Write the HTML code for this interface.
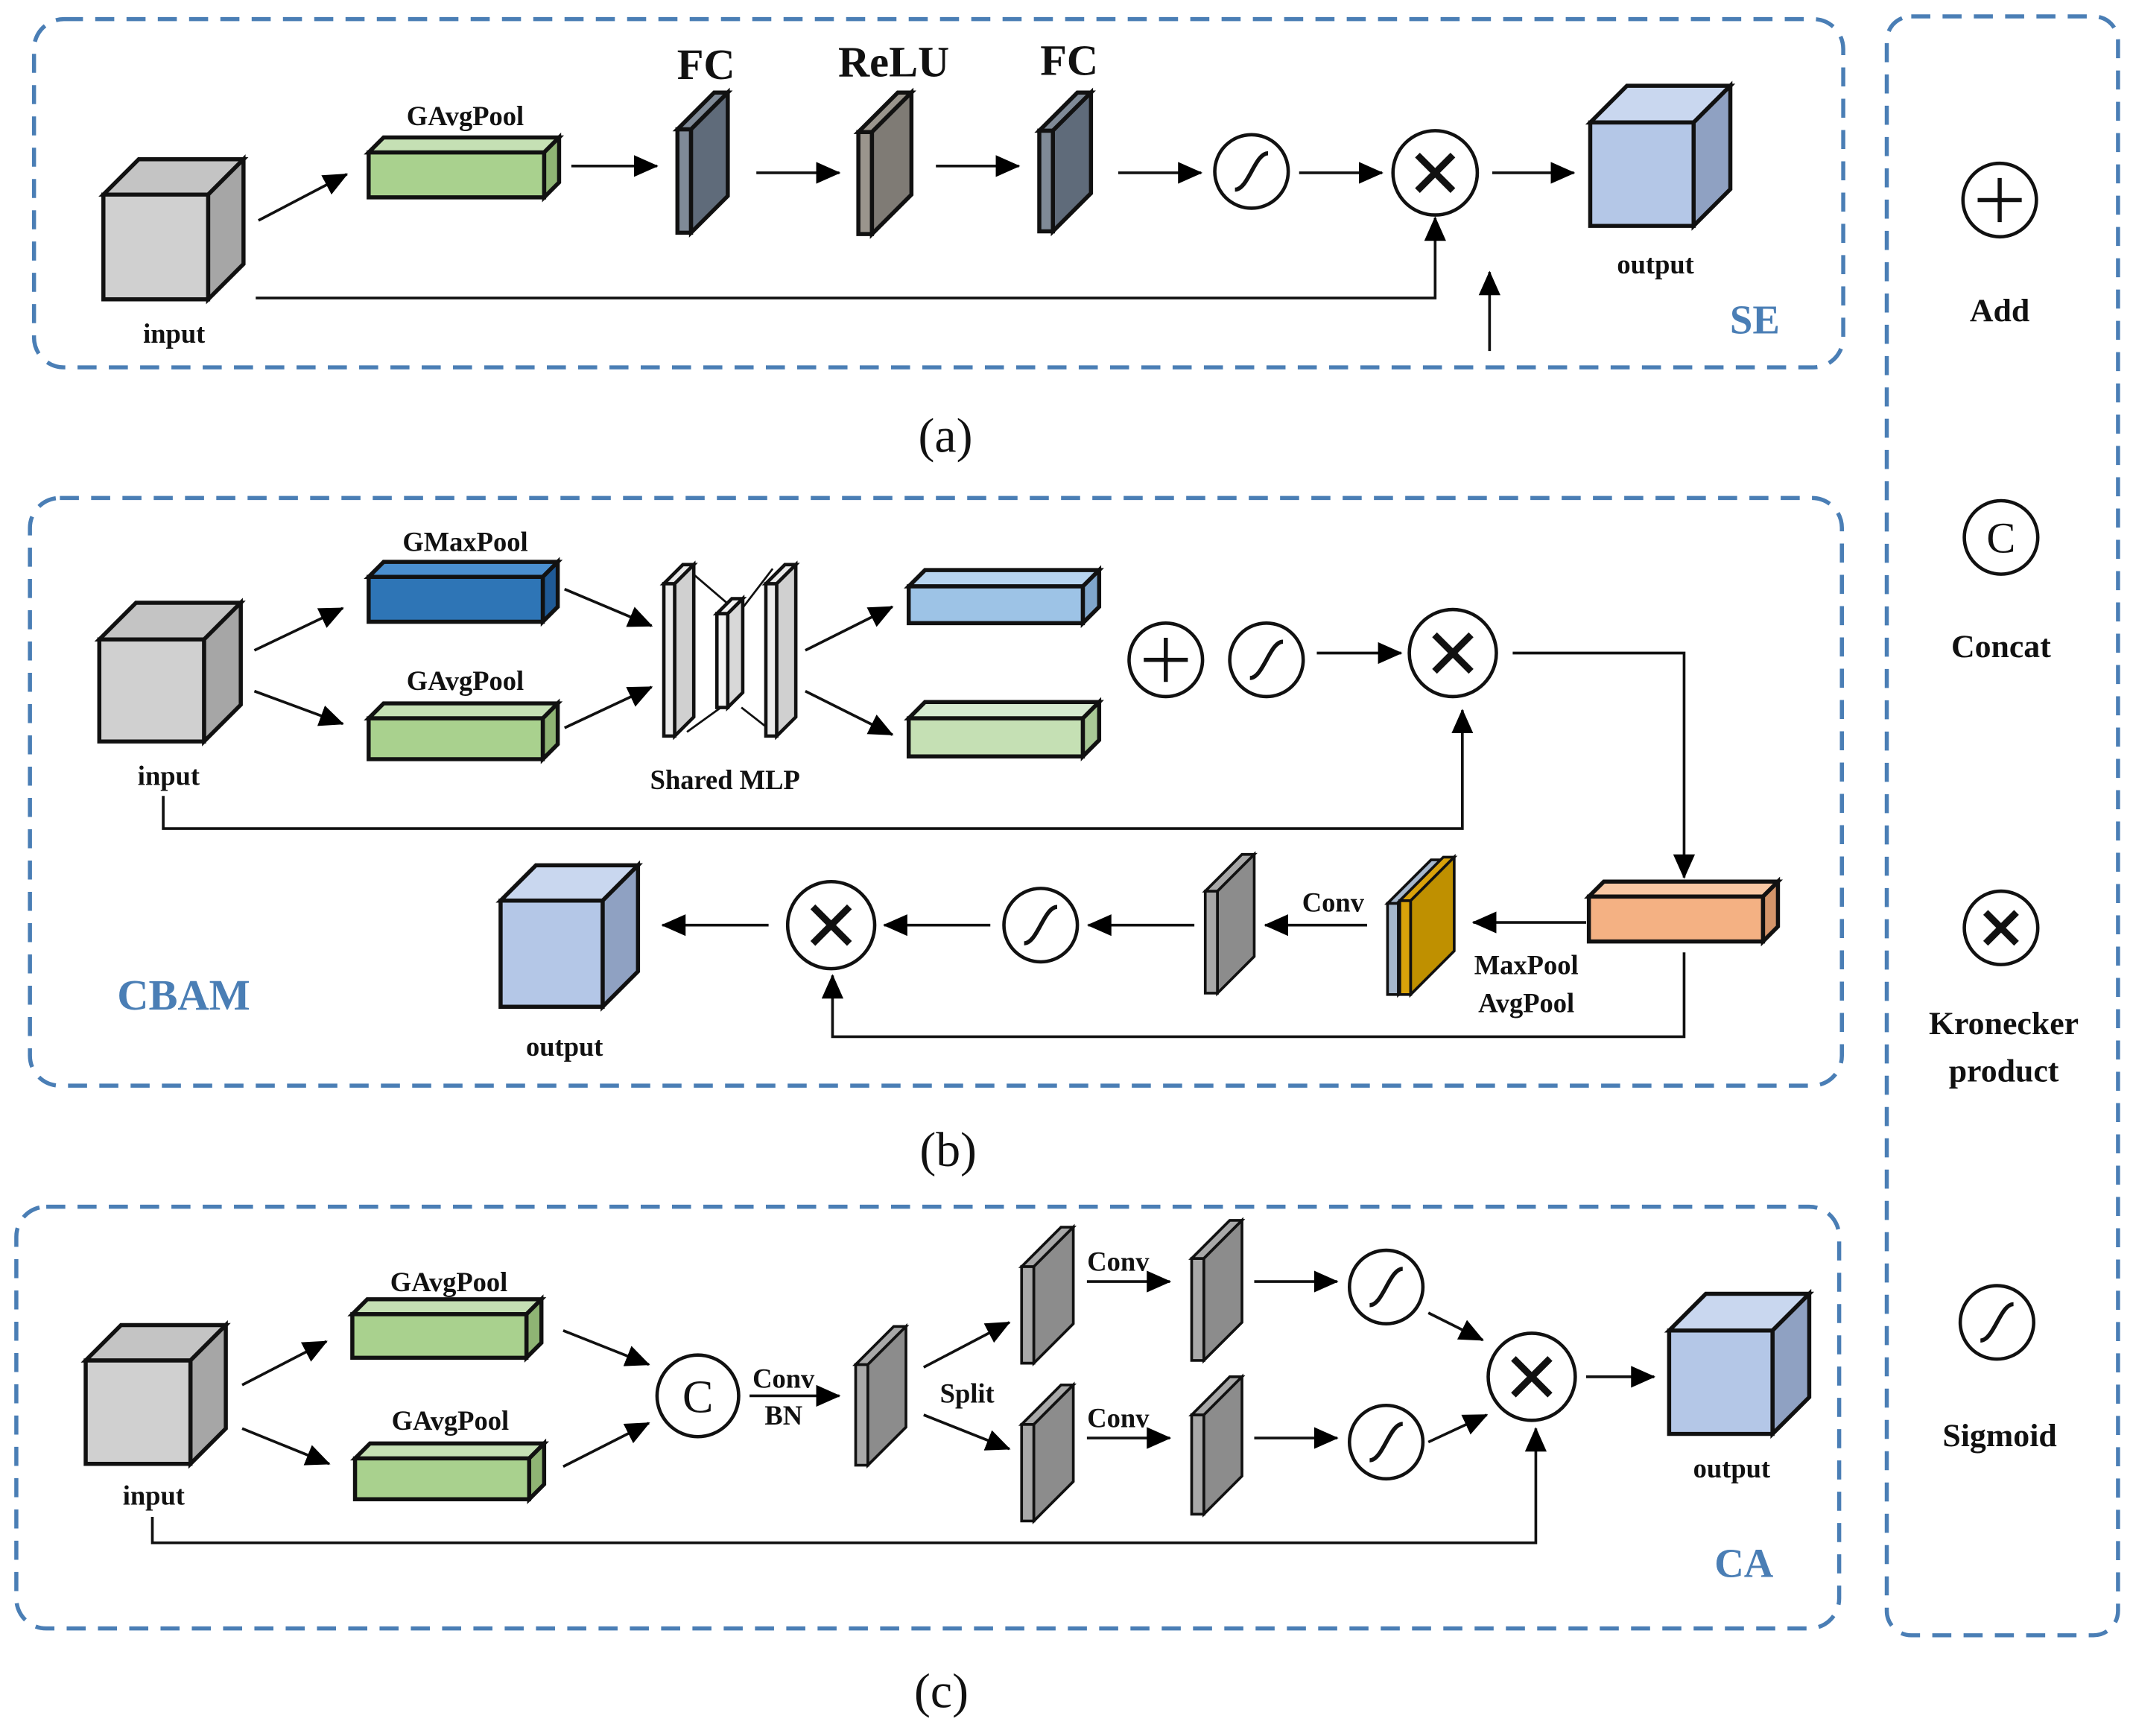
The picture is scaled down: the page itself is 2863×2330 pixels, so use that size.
<!DOCTYPE html>
<html><head><meta charset="utf-8"><style>
html,body{margin:0;padding:0;background:#fff}
svg{display:block}
text{font-family:"Liberation Serif",serif;font-weight:bold;fill:#111;text-anchor:middle}
</style></head><body>
<svg id="s" width="2863" height="2330" viewBox="0 0 1568 1276" xmlns="http://www.w3.org/2000/svg">
<defs><marker id="a" markerWidth="10" markerHeight="10" refX="9" refY="5" orient="auto" markerUnits="userSpaceOnUse" viewBox="0 0 10 10"><path d="M0,0 L10,5 L0,10 z" fill="#000"/></marker>
<marker id="b" markerWidth="18" markerHeight="16" refX="17" refY="8" orient="auto" markerUnits="userSpaceOnUse"><path d="M0,0 L18,8 L0,16 z" fill="#000"/></marker></defs>
<g fill="none" stroke="#4a7eb5" stroke-width="3" stroke-dasharray="14,9">
<rect x="25" y="14" width="1330" height="256" rx="22"/>
<rect x="22" y="366" width="1332" height="432" rx="22"/>
<rect x="12" y="887" width="1340" height="310" rx="22"/>
<rect x="1387" y="12" width="170" height="1190" rx="18"/>
</g>
<g id="g"></g>
<!-- text -->
<text x="128" y="252" font-size="20">input</text>
<text x="1217" y="201" font-size="20">output</text>
<text x="342" y="92" font-size="20">GAvgPool</text>
<text x="519" y="58" font-size="32">FC</text>
<text x="657" y="56" font-size="32">ReLU</text>
<text x="786" y="55" font-size="32">FC</text>
<text x="1290" y="245" font-size="30" style="fill:#4a7eb5">SE</text>
<text x="695" y="332" font-size="36" style="font-weight:normal">(a)</text>
<text x="342" y="405" font-size="20">GMaxPool</text>
<text x="342" y="507" font-size="20">GAvgPool</text>
<text x="124" y="577" font-size="20">input</text>
<text x="533" y="580" font-size="20">Shared MLP</text>
<text x="980" y="670" font-size="20">Conv</text>
<text x="1122" y="716" font-size="20">MaxPool</text>
<text x="1122" y="744" font-size="20">AvgPool</text>
<text x="415" y="776" font-size="20">output</text>
<text x="135" y="742" font-size="32" style="fill:#4a7eb5">CBAM</text>
<text x="697" y="857" font-size="36" style="font-weight:normal">(b)</text>
<text x="330" y="949" font-size="20">GAvgPool</text>
<text x="331" y="1051" font-size="20">GAvgPool</text>
<text x="113" y="1106" font-size="20">input</text>
<text x="576" y="1020" font-size="20">Conv</text>
<text x="576" y="1047" font-size="20">BN</text>
<text x="711" y="1031" font-size="20">Split</text>
<text x="822" y="934" font-size="20">Conv</text>
<text x="822" y="1049" font-size="20">Conv</text>
<text x="1273" y="1086" font-size="20">output</text>
<text x="1282" y="1159" font-size="30" style="fill:#4a7eb5">CA</text>
<text x="692" y="1255" font-size="36" style="font-weight:normal">(c)</text>
<text x="1470" y="236" font-size="24">Add</text>
<text x="1471" y="483" font-size="24">Concat</text>
<text x="1473" y="760" font-size="24">Kronecker</text>
<text x="1473" y="795" font-size="24">product</text>
<text x="1470" y="1063" font-size="24">Sigmoid</text>
<text x="1471" y="406" font-size="32" style="font-weight:normal">C</text>
<text x="513" y="1038" font-size="34" style="font-weight:normal">C</text>
</svg>
<script>
var g=document.getElementById('g'),h='';
function P(pts,f,sw){h+='<polygon points="'+pts.map(p=>p.join(',')).join(' ')+'" fill="'+f+'" stroke="#111" stroke-width="'+(sw||3)+'" stroke-linejoin="miter"/>';}
function box(x,y,w,hh,d,f,t,s){P([[x,y],[x+d,y-d],[x+w+d,y-d],[x+w,y]],t);P([[x+w,y],[x+w+d,y-d],[x+w+d,y+hh-d],[x+w,y+hh]],s);P([[x,y],[x+w,y],[x+w,y+hh],[x,y+hh]],f);}
function plate(x0,x1,y0,y1,w,f,s,sw){var d=x1-x0-w;P([[x0,y0+d],[x0+w,y0+d],[x0+w,y1],[x0,y1]],f,sw);P([[x0,y0+d],[x1-w,y0],[x1,y0],[x0+w,y0+d]],f,sw);P([[x0+w,y0+d],[x1,y0],[x1,y1-d],[x0+w,y1]],s,sw);}
function L(pts,m){h+='<polyline points="'+pts.map(p=>p.join(',')).join(' ')+'" fill="none" stroke="#111" stroke-width="2"'+(m?' marker-end="url(#b)"':'')+'/>';}
function C(x,y,r){h+='<circle cx="'+x+'" cy="'+y+'" r="'+r+'" fill="#fff" stroke="#111" stroke-width="2.5"/>';}
function X(x,y,r){C(x,y,r);var k=r*0.42;h+='<path d="M'+(x-k)+','+(y-k)+'L'+(x+k)+','+(y+k)+'M'+(x+k)+','+(y-k)+'L'+(x-k)+','+(y+k)+'" stroke="#111" stroke-width="5"/>';}
function A(x,y,r){C(x,y,r);var k=r*0.6;h+='<path d="M'+(x-k)+','+y+'H'+(x+k)+'M'+x+','+(y-k)+'V'+(y+k)+'" stroke="#111" stroke-width="3"/>';}
function S(x,y,r){C(x,y,r);var k=r*0.45;h+='<path d="M'+(x-k)+','+(y+k*1.1)+' C'+(x-k*0.2)+','+(y+k*1.1)+' '+(x+k*0.2)+','+(y-k*1.1)+' '+(x+k)+','+(y-k*1.1)+'" fill="none" stroke="#111" stroke-width="3"/>';}
var gr=['#d0d0d0','#c4c4c4','#a6a6a6'],bl=['#b4c7e7','#c9d7ef','#8fa1c2'];
// SE
box(76,143,77,77,26,gr[0],gr[1],gr[2]);
box(271,112,129,33,11,'#a9d18e','#c5e0b4','#8fb474');
plate(498,535,68,171,10,'#7f8a97','#5f6b7a');
plate(631,670,68,172,10,'#9a958d','#7f7b75');
plate(764,802,68,170,10,'#7f8a97','#5f6b7a');
S(920,126,27);X(1055,127,31);
box(1169,90,76,76,27,bl[0],bl[1],bl[2]);
L([[190,162],[255,128]],1);L([[420,122],[483,122]],1);L([[556,127],[617,127]],1);L([[688,122],[749,122]],1);
L([[822,127],[883,127]],1);L([[955,127],[1016,127]],1);L([[1097,127],[1157,127]],1);
L([[188,219],[1055,219],[1055,160]],1);L([[1095,258],[1095,200]],1);
// CBAM
box(73,470,77,75,27,gr[0],gr[1],gr[2]);
box(271,424,128,33,11,'#2e75b6','#4a8fd0','#1f5a96');
box(271,528,128,30,11,'#a9d18e','#c5e0b4','#8fb474');
L([[187,478],[252,447]],1);L([[187,508],[252,532]],1);L([[415,433],[479,460]],1);L([[415,535],[479,505]],1);
h+='<path d="M505,418L540,448M505,538L530,520M545,448L568,418M545,520L568,538" stroke="#111" stroke-width="1.5"/>';
plate(488,510,415,541,8,'#eaeaea','#d0d0d0',2.5);
plate(527,546,440,520,8,'#f3f3f3','#d8d8d8',2.5);
plate(563,585,415,541,8,'#eaeaea','#d0d0d0',2.5);
L([[592,478],[656,446]],1);L([[592,508],[656,540]],1);
box(668,431,128,27,12,'#9dc3e6','#b7d4ef','#7fa6cc');
box(668,528,128,28,12,'#c5e0b4','#d6ead0','#a9c996');
A(857,485,27);S(931,485,27);L([[968,480],[1030,480]],1);X(1068,480,32);
L([[1112,480],[1238,480],[1238,645]],1);
L([[120,585],[120,609],[1075,609],[1075,522]],1);
box(1168,659,128,33,11,'#f4b183','#f8c8a4','#d4956a');
L([[1166,678],[1083,678]],1);
plate(1020,1060,632,731,8,'#a6b7cc','#a6b7cc',2);
plate(1029,1069,630,731,8,'#d9a20a','#bf9000',2);
L([[1005,680],[930,680]],1);
plate(886,922,628,730,9,'#a8a8a8','#8c8c8c',2);
L([[878,680],[800,680]],1);S(765,680,27);L([[728,680],[650,680]],1);X(611,680,32);L([[565,680],[487,680]],1);
box(368,662,75,78,26,bl[0],bl[1],bl[2]);
L([[1238,700],[1238,762],[612,762],[612,717]],1);
// CA
box(63,1000,77,76,26,gr[0],gr[1],gr[2]);
box(259,966,128,32,11,'#a9d18e','#c5e0b4','#8fb474');
box(261,1072,128,30,11,'#a9d18e','#c5e0b4','#8fb474');
L([[178,1018],[240,986]],1);L([[178,1050],[242,1076]],1);L([[414,978],[477,1003]],1);L([[414,1078],[477,1046]],1);
C(513,1026,30);L([[551,1026],[617,1026]],1);
plate(629,666,975,1077,9,'#a8a8a8','#8c8c8c',2);
L([[679,1005],[742,972]],1);L([[679,1040],[742,1065]],1);
plate(751,789,902,1002,9,'#a8a8a8','#8c8c8c',2);plate(751,789,1018,1118,9,'#a8a8a8','#8c8c8c',2);
L([[799,942],[860,942]],1);L([[799,1057],[860,1057]],1);
plate(876,913,897,1000,9,'#a8a8a8','#8c8c8c',2);plate(876,913,1012,1113,9,'#a8a8a8','#8c8c8c',2);
L([[922,942],[983,942]],1);L([[922,1057],[983,1057]],1);
S(1019,946,27);S(1019,1060,27);
L([[1050,965],[1090,985]],1);L([[1050,1060],[1093,1040]],1);
X(1126,1012,32);L([[1166,1012],[1216,1012]],1);
box(1227,978,76,76,27,bl[0],bl[1],bl[2]);
L([[112,1115],[112,1134],[1129,1134],[1129,1050]],1);
// legend
A(1470,147,27);C(1471,395,27);X(1471,682,27);S(1468,972,27);
g.innerHTML=h;
</script>
</body></html>
